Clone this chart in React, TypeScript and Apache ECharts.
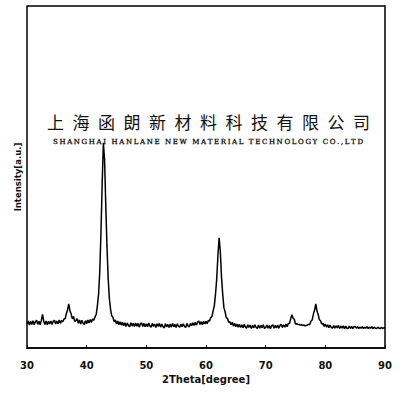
import React, { useEffect, useRef } from "react";
import * as echarts from "echarts";

// 2θ grid: 30.0 → 90.0 in 0.2° steps
const thetaStart = 30;
const thetaStep = 0.2;

// intensity (arbitrary units, 0–100 scale)
const intensity = [
  // 30.0 - 31.8
  7.0, 7.9, 6.7, 7.8, 6.9, 8.0, 6.8, 7.7, 8.1, 6.9,
  // 32.0 - 33.8
  7.8, 6.8, 8.0, 9.8, 7.9, 6.9, 7.9, 6.8, 7.8, 7.0,
  // 34.0 - 35.8
  7.9, 6.9, 7.8, 8.1, 7.0, 7.9, 7.1, 8.2, 7.2, 8.0,
  // 36.0 - 37.8
  7.7, 8.5, 8.6, 10.1, 11.2, 12.9, 10.8, 10.0, 8.5, 9.2,
  // 38.0 - 39.8
  7.8, 8.0, 8.6, 7.2, 8.2, 7.0, 8.1, 7.3, 6.9, 8.0,
  // 40.0 - 41.8
  7.1, 8.2, 7.3, 8.3, 7.5, 8.5, 8.1, 9.1, 9.8, 12.4,
  // 42.0 - 43.8
  15.8, 22.5, 34.0, 48.0, 60.0, 55.0, 42.0, 30.0, 20.5, 14.5,
  // 44.0 - 45.8
  11.4, 9.4, 9.0, 7.7, 8.2, 7.0, 7.9, 6.8, 7.7, 6.7,
  // 46.0 - 47.8
  7.5, 6.5, 7.4, 6.3, 7.3, 6.6, 6.2, 7.4, 6.4, 7.2,
  // 48.0 - 49.8
  6.3, 7.3, 6.4, 7.2, 6.1, 7.1, 7.3, 6.3, 7.2, 6.2,
  // 50.0 - 51.8
  7.1, 6.2, 7.3, 6.4, 6.1, 7.2, 6.3, 7.0, 6.0, 7.1,
  // 52.0 - 53.8
  6.3, 7.2, 6.1, 7.0, 6.2, 5.9, 7.1, 6.2, 6.9, 6.0,
  // 54.0 - 55.8
  7.0, 6.1, 7.2, 6.2, 6.9, 6.0, 7.1, 6.3, 6.1, 7.0,
  // 56.0 - 57.8
  6.2, 7.1, 6.3, 6.0, 7.2, 6.4, 6.2, 7.2, 6.5, 7.4,
  // 58.0 - 59.8
  6.6, 7.5, 6.7, 7.6, 7.9, 6.9, 7.7, 6.8, 7.8, 7.0,
  // 60.0 - 61.8
  7.8, 7.1, 8.1, 7.9, 8.9, 9.2, 10.9, 12.4, 15.9, 20.3,
  // 62.0 - 63.8
  27.2, 32.2, 28.2, 20.8, 15.8, 11.8, 10.6, 8.8, 8.7, 7.5,
  // 64.0 - 65.8
  7.7, 6.8, 7.5, 6.4, 7.2, 6.2, 7.0, 6.1, 6.9, 6.0,
  // 66.0 - 67.8
  6.8, 5.9, 6.9, 6.1, 5.8, 6.8, 6.0, 6.7, 5.7, 6.6,
  // 68.0 - 69.8
  5.9, 6.8, 6.0, 5.7, 6.7, 5.8, 6.6, 5.9, 6.8, 5.7,
  // 70.0 - 71.8
  6.0, 6.7, 5.8, 6.6, 5.6, 6.5, 6.8, 5.8, 6.6, 5.9,
  // 72.0 - 73.8
  6.7, 5.8, 6.6, 6.9, 6.0, 6.8, 6.1, 7.0, 6.2, 7.2,
  // 74.0 - 75.8
  7.2, 8.6, 9.7, 8.7, 8.4, 7.0, 7.1, 6.9, 6.9, 6.7,
  // 76.0 - 77.8
  6.8, 6.6, 6.7, 6.5, 6.6, 6.7, 6.9, 6.9, 7.9, 8.2,
  // 78.0 - 79.8
  9.9, 11.1, 12.9, 10.8, 9.8, 8.2, 8.0, 7.0, 7.2, 6.3,
  // 80.0 - 81.8
  7.0, 6.1, 6.8, 5.9, 6.7, 6.0, 5.8, 6.6, 5.8, 6.5,
  // 82.0 - 83.8
  5.9, 6.6, 5.7, 6.4, 5.8, 6.5, 5.6, 6.4, 5.8, 5.7,
  // 84.0 - 85.8
  6.4, 5.7, 6.3, 5.7, 6.2, 6.3, 5.8, 6.2, 5.7, 6.1,
  // 86.0 - 87.8
  5.8, 6.2, 5.7, 6.1, 5.8, 6.2, 5.7, 6.1, 5.8, 6.2,
  // 88.0 - 89.8
  5.7, 6.1, 5.8, 5.7, 6.1, 5.8, 5.7, 6.1, 5.7, 5.9,
  // 90.0
  5.9,
];

const xTicks = [30, 40, 50, 60, 70, 80, 90];
const xName = "2Theta[degree]";
const yName = "Intensity[a.u.]";
const titleCn = "上海函朗新材料科技有限公司";
const titleEn = "SHANGHAI HANLANE NEW MATERIAL TECHNOLOGY CO.,LTD";

export default function App() {
  const ref = useRef<HTMLDivElement>(null);

  useEffect(() => {
    if (!ref.current) return;
    const chart = echarts.init(ref.current, null, { renderer: "svg" });

    const data = intensity.map((v, i) => [
      +(thetaStart + i * thetaStep).toFixed(1),
      v,
    ]);

    // Chinese watermark: evenly spaced characters
    const cnChars = Array.from(titleCn);
    const cnStep = 25.5;
    const cnCenter = 208.5;
    const cnFirst = cnCenter - ((cnChars.length - 1) / 2) * cnStep;
    const cnEls = cnChars.map((ch, i) => ({
      type: "text",
      x: cnFirst + i * cnStep,
      y: 121,
      z: 100,
      style: {
        text: ch,
        fontSize: 17,
        fontFamily: "Noto Sans CJK SC",
        fontWeight: "normal",
        fill: "#111",
        textAlign: "center",
        textVerticalAlign: "middle",
      },
    }));

    // English watermark: letter-spaced via measured widths
    const enFontSize = 7;
    const enFamily = "DejaVu Serif";
    const canvas = document.createElement("canvas");
    const ctx = canvas.getContext("2d")!;
    ctx.font = `${enFontSize}px '${enFamily}'`;
    const enChars = Array.from(titleEn);
    const widths = enChars.map((c) => ctx.measureText(c).width);
    const natural = widths.reduce((a, b) => a + b, 0);
    const enLeft = 53;
    const enRight = 363;
    const spacing = (enRight - enLeft - natural) / (enChars.length - 1);
    let cx = enLeft;
    const enEls: any[] = [];
    enChars.forEach((c, i) => {
      if (c !== " ") {
        enEls.push({
          type: "text",
          x: cx,
          y: 142,
          z: 100,
          style: {
            text: c,
            fontSize: enFontSize,
            fontFamily: enFamily,
            fill: "#000",
            stroke: "#000",
            lineWidth: 0.25,
            textAlign: "left",
            textVerticalAlign: "middle",
          },
        });
      }
      cx += widths[i] + spacing;
    });

    chart.setOption({
      animation: false,
      backgroundColor: "#fff",
      grid: {
        left: 27,
        right: 15,
        top: 6,
        bottom: 51,
        show: true,
        borderColor: "#000",
        borderWidth: 1.5,
        backgroundColor: "transparent",
      },
      xAxis: {
        type: "value",
        min: xTicks[0],
        max: xTicks[xTicks.length - 1],
        interval: 10,
        name: xName,
        nameLocation: "middle",
        nameGap: 26,
        nameTextStyle: {
          fontFamily: "DejaVu Sans",
          fontWeight: "bold",
          fontSize: 10,
          color: "#111",
        },
        axisLine: { show: true, lineStyle: { color: "#000", width: 1.5 } },
        axisTick: {
          show: true,
          inside: true,
          length: 3,
          lineStyle: { color: "#000", width: 1 },
        },
        axisLabel: {
          margin: 12,
          fontFamily: "DejaVu Sans",
          fontWeight: "bold",
          fontSize: 10,
          color: "#111",
        },
        splitLine: { show: false },
      },
      yAxis: {
        type: "value",
        min: 0,
        max: 100,
        name: yName,
        nameLocation: "middle",
        nameGap: 5,
        nameTextStyle: {
          fontFamily: "DejaVu Sans",
          fontWeight: "bold",
          fontSize: 8.5,
          color: "#111",
        },
        axisLine: { show: false },
        axisTick: { show: false },
        axisLabel: { show: false },
        splitLine: { show: false },
      },
      series: [
        {
          type: "line",
          data,
          showSymbol: false,
          symbol: "none",
          lineStyle: { color: "#000", width: 1.5 },
          z: 2,
        },
      ],
      graphic: [...cnEls, ...enEls],
    });

    return () => chart.dispose();
  }, []);

  return (
    <div
      ref={ref}
      style={{
        position: "fixed",
        left: 0,
        top: 0,
        width: 400,
        height: 399,
        background: "#fff",
      }}
    />
  );
}
